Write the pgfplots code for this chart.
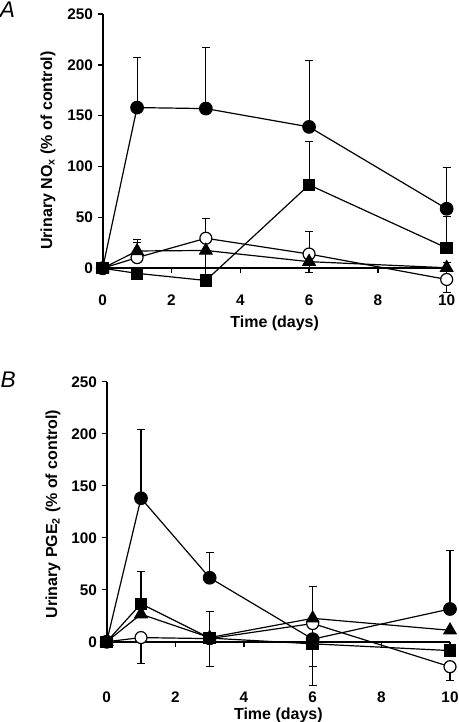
\documentclass[border=0pt]{standalone}
\usepackage{fontspec}
\setmainfont{Liberation Sans}
\usepackage{pgfplots}
\pgfplotsset{compat=1.18}
\pgfplotsset{
 panel/.style={
  scale only axis, clip=false,
  xmin=0, xmax=10, ymin=0, ymax=250,
  axis lines*=left,
  axis line style={line width=1.3pt},
  tick align=outside, major tick length=3.75pt,
  tick style={line width=1pt, black},
  xtick={0,2,...,10}, ytick={0,50,...,250},
  /pgf/number format/assume math mode=true,
  ticklabel style={font=\fontsize{11.5}{13}\selectfont\bfseries},
  label style={font=\fontsize{12}{14}\selectfont\bfseries},
 },
 ebar/.style={error bars/.cd, y dir=both, y explicit, error mark=-,
   error bar style={line width=0.8pt, black},
   error mark options={rotate=90, black, mark size=2.9pt, line width=0.8pt}},
 sopen/.style={black, line width=0.9pt, mark=*, mark size=4.5pt, mark options={fill=white, draw=black, line width=0.9pt}},
 stri/.style={black, line width=0.9pt, mark=triangle*, mark size=5.3pt, mark options={fill=black}},
 ssq/.style={black, line width=0.9pt, mark=square*, mark size=4.2pt, mark options={fill=black}},
 scirc/.style={black, line width=0.9pt, mark=*, mark size=4.7pt, mark options={fill=black}},
}
\begin{document}
\begin{tikzpicture}
\useasboundingbox (0,0) rectangle (343.5pt,-541.5pt);
\node[font=\fontsize{17}{17}\selectfont\itshape] at (5.6pt,-7.5pt) {A};
\node[font=\fontsize{17}{17}\selectfont\itshape] at (6.2pt,-285pt) {B};
% Panel A
\begin{axis}[panel, width=258pt, height=190.7pt, at={(77pt,-201.2pt)}, anchor=south west,
  xticklabel style={yshift=-12.8pt},
  xlabel={Time (days)}, ylabel={Urinary NO\textsubscript{x} (\% of control)},
  xlabel style={at={(axis description cs:0.5,-0.218)}, anchor=center},
  ylabel style={at={(axis description cs:-0.159,0.463)}, anchor=center}]
\addplot[sopen, ebar] coordinates {
 (0,0) += (0,0) -= (0,0)
 (1,10.5) += (0,14.5) -= (0,0)
 (3,29.5) += (0,19) -= (0,0)
 (6,14) += (0,22) -= (0,0)
 (10,-11) += (0,0) -= (0,12.5)};
\addplot[stri, ebar] coordinates {
 (0,0) += (0,0) -= (0,0)
 (1,17) += (0,11.5) -= (0,0)
 (3,17.5) += (0,0) -= (0,27)
 (6,6.5) += (0,0) -= (0,10.5)
 (10,0.5) += (0,5) -= (0,0)};
\addplot[ssq, ebar] coordinates {
 (0,0) += (0,0) -= (0,0)
 (1,-5) += (0,0) -= (0,0)
 (3,-12) += (0,0) -= (0,0)
 (6,82) += (0,43) -= (0,0)
 (10,20) += (0,31) -= (0,0)};
\addplot[scirc, ebar] coordinates {
 (0,0) += (0,0) -= (0,0)
 (1,158) += (0,49) -= (0,0)
 (3,157) += (0,60.5) -= (0,0)
 (6,139) += (0,65) -= (0,0)
 (10,58.5) += (0,40.5) -= (0,0)};
\end{axis}
% Panel B
\begin{axis}[panel, width=257.5pt, height=195pt, at={(80pt,-481.3pt)}, anchor=south west,
  xticklabel style={yshift=-30pt},
  xlabel={Time (days)}, ylabel={Urinary PGE\textsubscript{2} (\% of control)},
  xlabel style={at={(axis description cs:0.5,-0.284)}, anchor=center},
  ylabel style={at={(axis description cs:-0.156,0.491)}, anchor=center}]
\addplot[sopen, ebar] coordinates {
 (0,0) += (0,0) -= (0,0)
 (1,4) += (0,0) -= (0,24.5)
 (3,3) += (0,0) -= (0,0)
 (6,17.5) += (0,0) -= (0,41)
 (10,-24) += (0,0) -= (0,13)};
\addplot[stri, ebar] coordinates {
 (0,0) += (0,0) -= (0,0)
 (1,26.5) += (0,0) -= (0,0)
 (3,4) += (0,0) -= (0,0)
 (6,22.5) += (0,31) -= (0,0)
 (10,11) += (0,0) -= (0,0)};
\addplot[ssq, ebar] coordinates {
 (0,0) += (0,0) -= (0,0)
 (1,36.5) += (0,31) -= (0,0)
 (3,3.5) += (0,26) -= (0,27)
 (6,-2) += (0,0) -= (0,40)
 (10,-8.5) += (0,0) -= (0,0)};
\addplot[scirc, ebar] coordinates {
 (0,0) += (0,0) -= (0,0)
 (1,138) += (0,66) -= (0,0)
 (3,61.5) += (0,24) -= (0,0)
 (6,2.5) += (0,0) -= (0,0)
 (10,31.5) += (0,56.5) -= (0,0)};
\end{axis}
\end{tikzpicture}
\end{document}
